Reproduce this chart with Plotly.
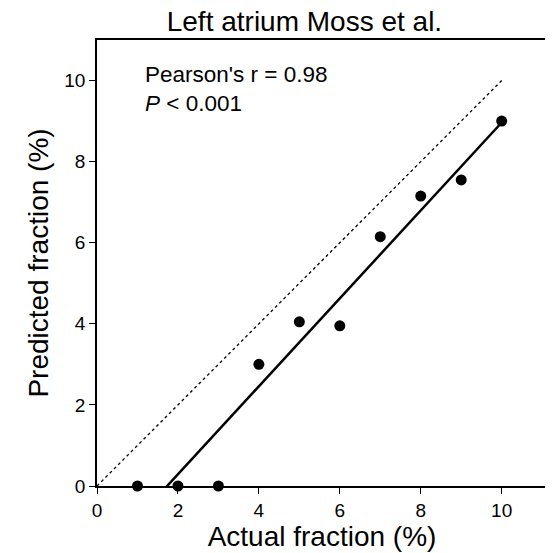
import numpy as np
import plotly.graph_objects as go

actual = [1, 2, 3, 4, 5, 6, 7, 8, 9, 10]
predicted = [0.0, 0.0, 0.0, 3.0, 4.05, 3.95, 6.15, 7.15, 7.55, 9.0]
identity = [0, 10]
tick_vals = [0, 2, 4, 6, 8, 10]

slope, intercept = np.polyfit(actual, predicted, 1)
x_fit = [(-0.08 - intercept) / slope, max(actual)]
y_fit = [slope * v + intercept for v in x_fit]

FONT = "Liberation Sans, Arial, sans-serif"

fig = go.Figure()
fig.add_trace(go.Scatter(x=identity, y=identity, mode="lines",
                         line=dict(color="black", width=1.3, dash="dot"),
                         showlegend=False, hoverinfo="skip"))
fig.add_trace(go.Scatter(x=x_fit, y=y_fit, mode="lines",
                         line=dict(color="black", width=2.5),
                         showlegend=False, cliponaxis=False))
fig.add_trace(go.Scatter(x=actual, y=predicted, mode="markers",
                         marker=dict(color="black", size=11),
                         showlegend=False, cliponaxis=False))

axis_common = dict(showline=True, linecolor="black", linewidth=1.5, mirror=True,
                   ticks="outside", ticklen=6, tickwidth=1.3, tickcolor="black",
                   showgrid=False, zeroline=False, automargin=False,
                   tickfont=dict(family=FONT, size=19, color="black"))

fig.update_xaxes(range=[0, 11.12], tickvals=tick_vals,
                 title=dict(text="Actual fraction (%)", font=dict(family=FONT, size=28, color="black"), standoff=4),
                 **axis_common)
fig.update_yaxes(range=[0, 11], tickvals=tick_vals,
                 title=dict(text="Predicted fraction (%)", font=dict(family=FONT, size=28, color="black"), standoff=8),
                 **axis_common)

fig.add_annotation(xref="paper", yref="paper", x=0.102, y=0.955, xanchor="left", yanchor="top",
                   text="Pearson's r = 0.98<br><i>P</i> < 0.001", showarrow=False, align="left",
                   font=dict(family=FONT, size=22.5, color="black"))

# page body has an 8px default margin, so the figure is 545 px and sits at (8, 8)
fig.update_layout(
    width=545, height=545,
    margin=dict(l=89, r=6, t=32, b=67, autoexpand=False),
    plot_bgcolor="white", paper_bgcolor="white",
    title=dict(text="Left atrium Moss et al.", x=0.461, xref="paper", xanchor="center",
               y=1, yref="container", yanchor="top", pad=dict(t=3),
               font=dict(family=FONT, size=28, color="black"), automargin=False),
)

fig.write_html("out.html")
